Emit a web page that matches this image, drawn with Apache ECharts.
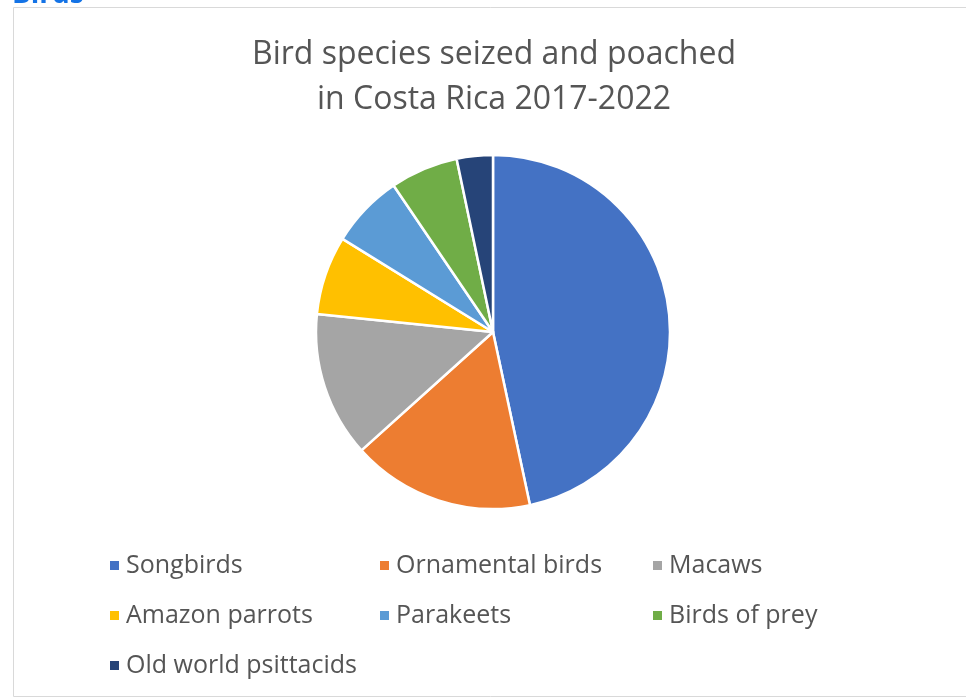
<!DOCTYPE html>
<html>
<head>
<meta charset="utf-8">
<script src="https://cdn.jsdelivr.net/npm/echarts@6/dist/echarts.min.js"></script>
<style>
html,body{margin:0;padding:0;background:#fff;}
#chart{width:966px;height:700px;}
</style>
</head>
<body>
<div id="chart"></div>
<script>
const categories = ['Songbirds', 'Ornamental birds', 'Macaws', 'Amazon parrots', 'Parakeets', 'Birds of prey', 'Old world psittacids'];
const values = [46.7, 16.7, 13.3, 7.2, 6.7, 6.2, 3.3];
const colors = ['#4472C4', '#ED7D31', '#A5A5A5', '#FFC000', '#5B9BD5', '#70AD47', '#264478'];
const titleLines = ['Bird species seized and poached', 'in Costa Rica 2017-2022'];
const legendColumns = [
  ['Songbirds', 'Amazon parrots', 'Old world psittacids'],
  ['Ornamental birds', 'Parakeets'],
  ['Macaws', 'Birds of prey']
];
const legendLeft = [103, 373, 646];

const FONT = 'Open Sans';
const chart = echarts.init(document.getElementById('chart'), null, {renderer: 'canvas'});

const legendBase = {
  orient: 'vertical',
  top: 544,
  itemGap: 17,
  itemWidth: 11,
  itemHeight: 11,
  icon: 'rect',
  selectedMode: false,
  textStyle: {fontFamily: FONT, fontSize: 25, lineHeight: 33, color: '#555555', padding: [0, 0, 0, 1]}
};

chart.setOption({
  animation: false,
  color: colors,
  title: {
    text: titleLines.join('\n'),
    left: 489,
    textAlign: 'center',
    top: 27,
    textStyle: {fontFamily: FONT, fontWeight: 'normal', fontSize: 32, lineHeight: 45, color: '#555555'}
  },
  legend: legendColumns.map((col, i) => Object.assign({}, legendBase, {data: col, left: legendLeft[i]})),
  graphic: [
    {type: 'rect', shape: {x: 13.5, y: 7.5, width: 970, height: 689}, style: {fill: 'none', stroke: '#d9d9d9', lineWidth: 1}, silent: true},
    {type: 'text', x: 12, y: 9, style: {text: 'Birds', fontFamily: FONT, fontWeight: 'bold', fontSize: 28, fill: '#1473E6', verticalAlign: 'bottom'}, silent: true}
  ],
  series: [{
    type: 'pie',
    center: [493, 332],
    radius: [0, 177],
    startAngle: 90,
    clockwise: true,
    label: {show: false},
    labelLine: {show: false},
    itemStyle: {borderColor: '#fff', borderWidth: 2.5},
    emphasis: {disabled: true},
    data: categories.map((c, i) => ({name: c, value: values[i]}))
  }]
});
</script>
</body>
</html>
